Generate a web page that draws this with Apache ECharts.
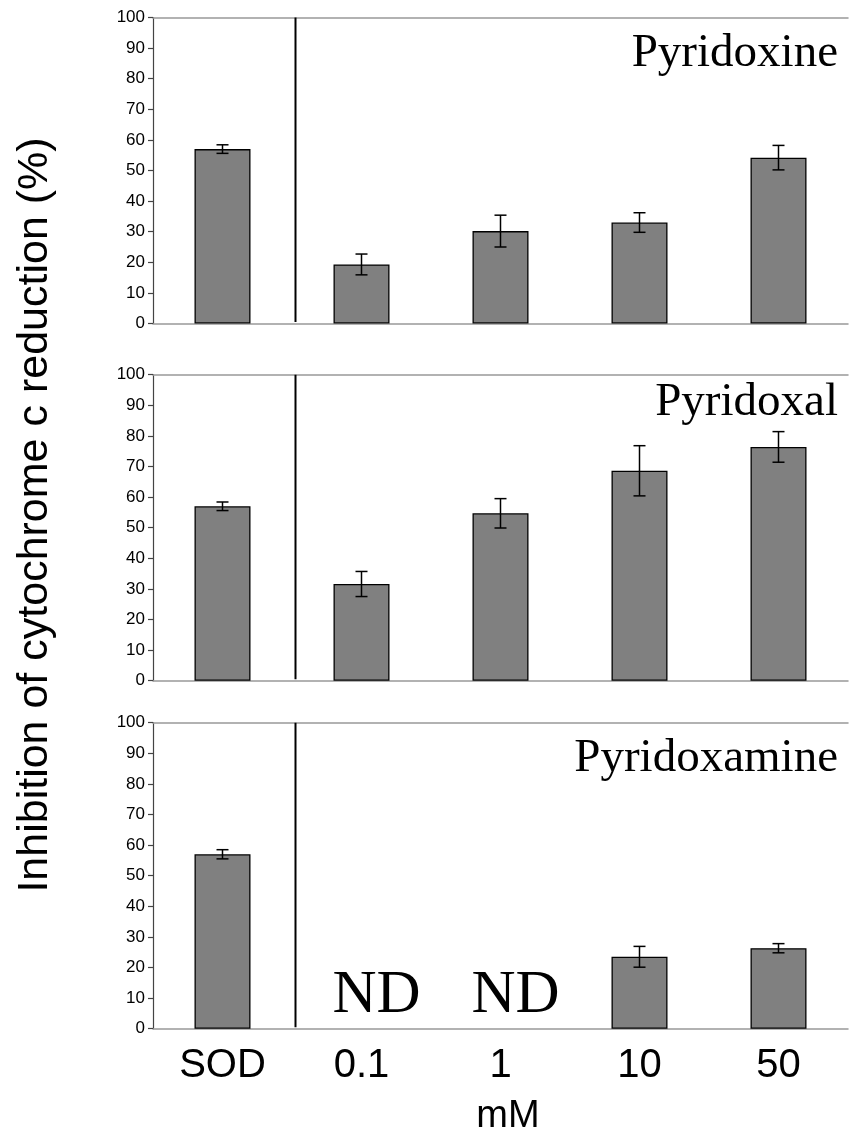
<!DOCTYPE html>
<html>
<head>
<meta charset="utf-8">
<style>
  html, body { margin: 0; padding: 0; background: #fff; }
  #chart { width: 849px; height: 1138px; }
</style>
<script src="https://cdn.jsdelivr.net/npm/echarts@6/dist/echarts.min.js"></script>
</head>
<body>
<div id="chart"></div>
<script>
// Categories along the bottom axis
const categories = ['SOD', '0.1', '1', '10', '50'];

// Panel titles
const panelNames = ['Pyridoxine', 'Pyridoxal', 'Pyridoxamine'];

// Mean inhibition (%) and error (±) per category
const pyridoxineMean = [57, 19.3, 30.2, 33.0, 54.2];
const pyridoxineErr  = [1.4, 3.4, 5.2, 3.2, 4.0];

const pyridoxalMean = [57, 31.6, 54.7, 68.6, 76.4];
const pyridoxalErr  = [1.4, 4.1, 4.8, 8.2, 5.0];

const pyridoxamineMean = [57, null, null, 23.5, 26.3];
const pyridoxamineErr  = [1.5, null, null, 3.4, 1.5];

// Categories with no detectable activity (category index, baseline value, label)
const notDetected = [[1, 0, 'ND'], [2, 0, 'ND']];

const panels = [
  { mean: pyridoxineMean, err: pyridoxineErr, nd: [] },
  { mean: pyridoxalMean, err: pyridoxalErr, nd: [] },
  { mean: pyridoxamineMean, err: pyridoxamineErr, nd: notDetected }
];

const gridTops = [17.5, 374.7, 722.7];
const gridHeight = 306;
const titleTop = [30, 379, 735];

const SANS = '"Liberation Sans", Arial, sans-serif';
const SERIF = '"Liberation Serif", "Times New Roman", serif';

const grid = [], xAxis = [], yAxis = [], series = [], graphic = [];

panels.forEach((p, i) => {
  grid.push({ left: 153, right: 1, top: gridTops[i], height: gridHeight });

  // bottom category axis
  xAxis.push({
    type: 'category', gridIndex: i, data: categories, position: 'bottom',
    axisLine: { onZero: false, lineStyle: { color: '#999', width: 1.5 } },
    axisTick: { show: false },
    axisLabel: {
      show: i === 2, fontSize: 40, color: '#000', fontFamily: SANS, margin: 17
    }
  });
  // top frame line
  xAxis.push({
    type: 'category', gridIndex: i, data: categories, position: 'top',
    axisLine: { onZero: false, lineStyle: { color: '#999', width: 1.5 } },
    axisTick: { show: false }, axisLabel: { show: false }
  });

  yAxis.push({
    type: 'value', gridIndex: i, min: 0, max: 100, interval: 10,
    axisLine: { show: true, lineStyle: { color: '#444', width: 1.2 } },
    axisTick: { show: true, length: 5, lineStyle: { color: '#444', width: 1.2 } },
    splitLine: { show: false },
    axisLabel: { fontSize: 17, color: '#000', fontFamily: SANS, margin: 8 }
  });

  const xi = i * 2;

  series.push({
    type: 'bar', xAxisIndex: xi, yAxisIndex: i,
    data: p.mean, barWidth: 56,
    itemStyle: { color: '#808080', borderColor: '#000', borderWidth: 1.3 },
    z: 2
  });

  // error bars
  const errData = p.mean.map((m, k) =>
    (m == null || p.err[k] == null) ? null : [k, m - p.err[k], m + p.err[k]]
  ).filter(Boolean);
  series.push({
    type: 'custom', xAxisIndex: xi, yAxisIndex: i,
    data: errData, z: 3,
    encode: { x: 0, y: [1, 2] },
    renderItem: function (params, api) {
      const x = api.value(0);
      const lo = api.coord([x, api.value(1)]);
      const hi = api.coord([x, api.value(2)]);
      const h = 6;
      const st = { stroke: '#000', lineWidth: 1.5 };
      return {
        type: 'group',
        children: [
          { type: 'line', shape: { x1: lo[0], y1: lo[1], x2: hi[0], y2: hi[1] }, style: st },
          { type: 'line', shape: { x1: lo[0] - h, y1: lo[1], x2: lo[0] + h, y2: lo[1] }, style: st },
          { type: 'line', shape: { x1: hi[0] - h, y1: hi[1], x2: hi[0] + h, y2: hi[1] }, style: st }
        ]
      };
    }
  });

  // separator between the SOD reference and the concentration series
  series.push({
    type: 'custom', xAxisIndex: xi, yAxisIndex: i,
    data: [[0, 0.5, 100]], z: 3,
    encode: { x: 0, y: [1, 2] },
    renderItem: function (params, api) {
      const band = api.size([1, 0])[0];
      const a = api.coord([api.value(0), api.value(1)]);
      const b = api.coord([api.value(0), api.value(2)]);
      const x = a[0] + band / 2 + 3.5;
      return {
        type: 'line',
        shape: { x1: x, y1: a[1], x2: x, y2: b[1] },
        style: { stroke: '#000', lineWidth: 2 }
      };
    }
  });

  // "ND" markers
  if (p.nd.length) {
    series.push({
      type: 'custom', xAxisIndex: xi, yAxisIndex: i,
      data: p.nd, z: 4,
      encode: { x: 0, y: 1 },
      renderItem: function (params, api) {
        const pt = api.coord([api.value(0), api.value(1)]);
        return {
          type: 'text',
          style: {
            text: 'ND', x: pt[0] + 15, y: pt[1] - 33,
            textAlign: 'center', textVerticalAlign: 'middle',
            font: '61px ' + SERIF, fill: '#000'
          }
        };
      }
    });
  }

  graphic.push({
    type: 'text', right: 11, top: titleTop[i],
    style: { text: panelNames[i], font: '47px ' + SERIF, fill: '#000' }
  });
});

// y-axis title
graphic.push({
  type: 'text', x: 35, y: 515, rotation: Math.PI / 2,
  style: {
    text: 'Inhibition of cytochrome c reduction (%)',
    font: '43px ' + SANS, fill: '#000',
    textAlign: 'center', textVerticalAlign: 'middle'
  }
});
// x-axis unit
graphic.push({
  type: 'text', x: 508, y: 1117,
  style: {
    text: 'mM', font: '38px ' + SANS, fill: '#000',
    textAlign: 'center', textVerticalAlign: 'middle'
  }
});

const chart = echarts.init(document.getElementById('chart'), null, { renderer: 'canvas' });
chart.setOption({
  animation: false,
  backgroundColor: '#fff',
  grid, xAxis, yAxis, series, graphic
});
</script>
</body>
</html>
